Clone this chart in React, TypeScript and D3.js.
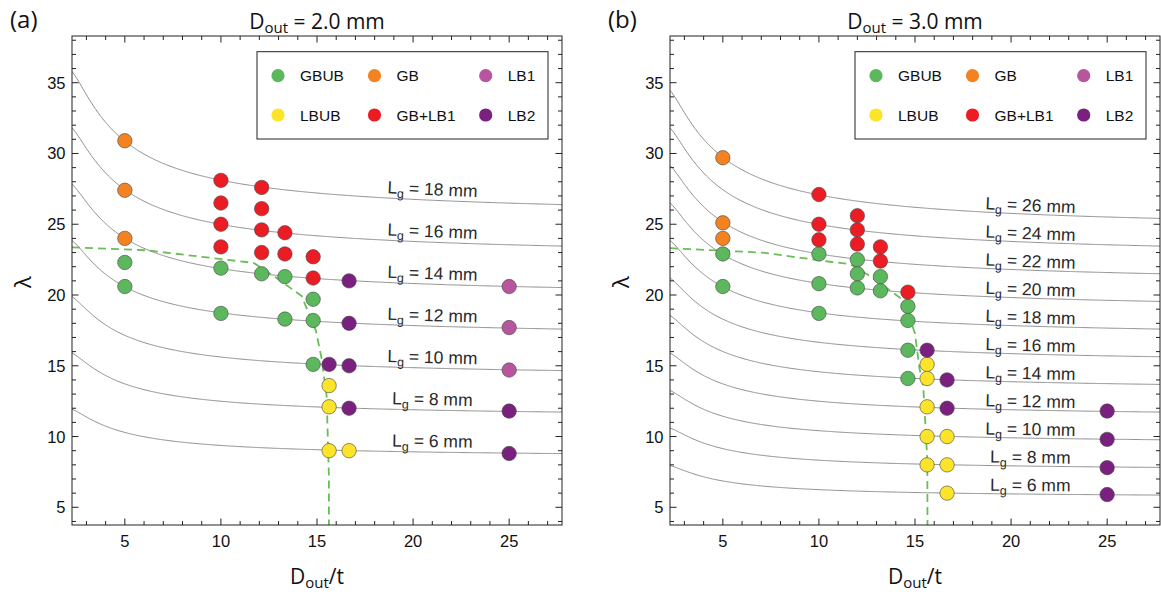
import React from "react";
import * as d3 from "d3";

const WIDTH = 1161;
const HEIGHT = 594;

type Pt = [number, number];

// Failure-mode categories in legend order (two rows of three)
const modeNames = ["GBUB", "GB", "LB1", "LBUB", "GB+LB1", "LB2"];
const modeColors = ["#5CB85C", "#F58220", "#B8559F", "#FBE42A", "#EC1C24", "#7A2180"];

// Axis ticks
const xMajorTicks = [5, 10, 15, 20, 25];
const yMajorTicks = [5, 10, 15, 20, 25, 30, 35];
const xDomain: Pt = [2.25, 27.75];
const yDomain: Pt = [3.75, 38.3];

// ---- Panel (a): D_out = 2.0 mm ----
const gaugeLengthsA = [6, 8, 10, 12, 14, 16, 18];
const gbubA: Pt[] = [
  [5, 22.3], [5, 20.6], [10, 21.9], [10, 18.7], [12.12, 21.5],
  [13.33, 21.3], [13.33, 18.3], [14.8, 19.7], [14.8, 18.2], [14.8, 15.1],
];
const gbA: Pt[] = [[5, 30.9], [5, 27.4], [5, 24.0]];
const lb1A: Pt[] = [[25, 20.6], [25, 17.7], [25, 14.7]];
const lbubA: Pt[] = [[15.63, 13.6], [15.63, 12.1], [15.63, 9.0], [16.67, 9.0]];
const gbLb1A: Pt[] = [
  [10, 28.1], [10, 26.5], [10, 25.0], [10, 23.4],
  [12.12, 27.6], [12.12, 26.1], [12.12, 24.6], [12.12, 23.0],
  [13.33, 24.4], [13.33, 22.9], [14.8, 22.7], [14.8, 21.2],
];
const lb2A: Pt[] = [
  [15.63, 15.1], [16.67, 21.0], [16.67, 18.0], [16.67, 15.0], [16.67, 12.0],
  [25, 11.8], [25, 8.8],
];
const boundaryA: Pt[] = [
  [2.25, 23.37], [6.1, 23.16], [11.7, 22.27], [12.9, 21.2], [14.2, 19.93],
  [14.95, 17.45], [15.25, 15.45], [15.5, 12.87], [15.62, 7.2], [15.62, 3.75],
];

// ---- Panel (b): D_out = 3.0 mm ----
const gaugeLengthsB = [6, 8, 10, 12, 14, 16, 18, 20, 22, 24, 26];
const gbubB: Pt[] = [
  [5, 22.9], [5, 20.6], [10, 22.9], [10, 20.8], [10, 18.7],
  [12, 22.5], [12, 21.5], [12, 20.5], [13.2, 21.3], [13.2, 20.3],
  [14.63, 19.2], [14.63, 18.2], [14.63, 16.1], [14.63, 14.1],
];
const gbB: Pt[] = [[5, 29.7], [5, 25.1], [5, 24.0]];
const lb1B: Pt[] = [];
const lbubB: Pt[] = [
  [15.63, 15.1], [15.63, 14.1], [15.63, 12.1], [15.63, 10.0], [15.63, 8.0],
  [16.67, 10.0], [16.67, 8.0], [16.67, 6.0],
];
const gbLb1B: Pt[] = [
  [10, 27.1], [10, 25.0], [10, 23.9], [12, 25.6], [12, 24.6], [12, 23.6],
  [13.2, 23.4], [13.2, 22.4], [14.63, 20.2],
];
const lb2B: Pt[] = [
  [15.63, 16.1], [16.67, 14.0], [16.67, 12.0],
  [25, 11.8], [25, 9.8], [25, 7.8], [25, 5.9],
];
const boundaryB: Pt[] = [
  [2.25, 23.31], [7.1, 22.99], [8.66, 22.7], [10.57, 22.35], [11.61, 22.19],
  [12.57, 21.41], [13.79, 20.23], [14.39, 19.64], [15.0, 17.29], [15.22, 14.93],
  [15.43, 13.52], [15.64, 8.34], [15.65, 3.75],
];

// Slenderness of a tube of gauge length lg: λ = 4·Lg / sqrt(D² + d²), d = D − 2t, t = D / ratio
function slenderness(lg: number, dOut: number, ratio: number) {
  const inner = 1 - 2 / ratio;
  return (4 * lg) / (dOut * Math.sqrt(1 + inner * inner));
}

const PLOT_TOP = 36;
const PLOT_BOTTOM = 525;
const PLOT_W = 490;
const LABEL_RATIO = 21;

const SANS = "'Liberation Sans', Arial, Helvetica, sans-serif";
const TITLE_FONT = "'Open Sans', 'Liberation Sans', sans-serif";

interface PanelSpec {
  id: string;
  tag: string;
  dOut: number;
  left: number;
  gaugeLengths: number[];
  series: Pt[][]; // in modeNames order
  boundary: Pt[];
  labelLift: number;
}

const panels: PanelSpec[] = [
  {
    id: "a", tag: "(a)", dOut: 2.0, left: 72, gaugeLengths: gaugeLengthsA,
    series: [gbubA, gbA, lb1A, lbubA, gbLb1A, lb2A], boundary: boundaryA, labelLift: 5,
  },
  {
    id: "b", tag: "(b)", dOut: 3.0, left: 670, gaugeLengths: gaugeLengthsB,
    series: [gbubB, gbB, lb1B, lbubB, gbLb1B, lb2B], boundary: boundaryB, labelLift: 3,
  },
];

function Panel({ spec }: { spec: PanelSpec }) {
  const left = spec.left;
  const right = left + PLOT_W;
  const x = d3.scaleLinear().domain(xDomain).range([left, right]);
  const y = d3.scaleLinear().domain(yDomain).range([PLOT_BOTTOM, PLOT_TOP]);
  const cx = (left + right) / 2;

  const ratios = d3.range(2.0, 27.8, 0.05);
  const line = d3.line<Pt>().x((d) => x(d[0])).y((d) => y(d[1]));

  const xMinor = d3.range(3, 28, 1);
  const yMinor = d3.range(4, 39, 1);
  const major = 6.5;
  const minor = 4;

  const clipId = `clip-${spec.id}`;

  // legend geometry
  const lgLeft = left + 185;
  const lgTop = 51.7;
  const colX = [21, 117.5, 228.7];
  const rowY = [24, 63.3];

  return (
    <g>
      <defs>
        <clipPath id={clipId}>
          <rect x={left} y={PLOT_TOP} width={PLOT_W} height={PLOT_BOTTOM - PLOT_TOP} />
        </clipPath>
      </defs>

      {/* slenderness curves for each gauge length */}
      <g clipPath={`url(#${clipId})`}>
        {spec.gaugeLengths.map((lg) => (
          <path
            key={lg}
            d={line(ratios.map((r) => [r, slenderness(lg, spec.dOut, r)] as Pt)) || ""}
            fill="none"
            stroke="#808080"
            strokeWidth={0.9}
          />
        ))}
        <path
          d={line(spec.boundary) || ""}
          fill="none"
          stroke="#68BE57"
          strokeWidth={1.8}
          strokeDasharray="8 5"
        />
      </g>

      {/* curve labels */}
      {spec.gaugeLengths.map((lg) => {
        const r0 = LABEL_RATIO - 0.4;
        const r1 = LABEL_RATIO + 0.4;
        const ang =
          (Math.atan2(
            y(slenderness(lg, spec.dOut, r1)) - y(slenderness(lg, spec.dOut, r0)),
            x(r1) - x(r0)
          ) * 180) / Math.PI;
        const px = x(LABEL_RATIO);
        const py = y(slenderness(lg, spec.dOut, LABEL_RATIO)) - spec.labelLift;
        return (
          <text
            key={`lab-${lg}`}
            transform={`translate(${px},${py}) rotate(${ang})`}
            textAnchor="middle"
            fontFamily={SANS}
            fontSize={17.5}
            fill="#2a2a2a"
          >
            L
            <tspan fontSize={12.5} dy={4}>g</tspan>
            <tspan dy={-4}>{` = ${lg} mm`}</tspan>
          </text>
        );
      })}

      {/* data points */}
      {spec.series.map((pts, i) =>
        pts.map((p, j) => (
          <circle
            key={`${i}-${j}`}
            cx={x(p[0])}
            cy={y(p[1])}
            r={7.2}
            fill={modeColors[i]}
            stroke="#4a4a4a"
            strokeOpacity={0.8}
            strokeWidth={0.8}
          />
        ))
      )}

      {/* frame */}
      <rect
        x={left}
        y={PLOT_TOP}
        width={PLOT_W}
        height={PLOT_BOTTOM - PLOT_TOP}
        fill="none"
        stroke="#222"
        strokeWidth={1}
      />

      {/* ticks */}
      <g stroke="#222" strokeWidth={1}>
        {xMinor.map((t) => {
          const len = t % 5 === 0 ? major : minor;
          const px = x(t);
          return (
            <g key={`xt-${t}`}>
              <line x1={px} x2={px} y1={PLOT_BOTTOM} y2={PLOT_BOTTOM - len} />
              <line x1={px} x2={px} y1={PLOT_TOP} y2={PLOT_TOP + len} />
            </g>
          );
        })}
        {yMinor.map((t) => {
          const len = t % 5 === 0 ? major : minor;
          const py = y(t);
          return (
            <g key={`yt-${t}`}>
              <line x1={left} x2={left + len} y1={py} y2={py} />
              <line x1={right} x2={right - len} y1={py} y2={py} />
            </g>
          );
        })}
      </g>

      {/* tick labels */}
      <g fontFamily={SANS} fontSize={16.5} fill="#111">
        {xMajorTicks.map((t) => (
          <text key={`xl-${t}`} x={x(t)} y={546.5} textAnchor="middle">
            {t}
          </text>
        ))}
        {yMajorTicks.map((t) => (
          <text key={`yl-${t}`} x={left - 6.5} y={y(t) + 6} textAnchor="end">
            {t}
          </text>
        ))}
      </g>

      {/* legend */}
      <rect
        x={lgLeft}
        y={lgTop}
        width={291}
        height={87.3}
        fill="#fff"
        stroke="#222"
        strokeWidth={1}
      />
      {modeNames.map((m, i) => {
        const c = i % 3;
        const r = Math.floor(i / 3);
        return (
          <g key={m}>
            <circle cx={lgLeft + colX[c]} cy={lgTop + rowY[r]} r={6.6} fill={modeColors[i]} />
            <text
              x={lgLeft + colX[c] + 22}
              y={lgTop + rowY[r] + 5.5}
              fontFamily={SANS}
              fontSize={15.5}
              fill="#111"
            >
              {m}
            </text>
          </g>
        );
      })}

      {/* titles and axis labels */}
      <text x={cx} y={29} textAnchor="middle" fontFamily={TITLE_FONT} fontSize={21} fill="#111">
        D<tspan fontSize={15} dy={4}>out</tspan>
        <tspan dy={-4}>{` = ${spec.dOut.toFixed(1)} mm`}</tspan>
      </text>
      <text x={left - 62} y={28} fontFamily={TITLE_FONT} fontSize={24} fill="#111">
        {spec.tag}
      </text>
      <text
        transform={`translate(${left - 50},282) rotate(-90)`}
        textAnchor="middle"
        dominantBaseline="central"
        fontFamily={TITLE_FONT}
        fontSize={22}
        fill="#111"
      >
        λ
      </text>
      <text x={cx} y={584} textAnchor="middle" fontFamily={TITLE_FONT} fontSize={21} fill="#111">
        D<tspan fontSize={15} dy={4}>out</tspan>
        <tspan dy={-4}>/t</tspan>
      </text>
    </g>
  );
}

export default function App() {
  return (
    <svg
      width={WIDTH}
      height={HEIGHT}
      viewBox={`0 0 ${WIDTH} ${HEIGHT}`}
      style={{ position: "absolute", left: 0, top: 0, display: "block", background: "#fff" }}
    >
      <rect width={WIDTH} height={HEIGHT} fill="#fff" />
      {panels.map((p) => (
        <Panel key={p.id} spec={p} />
      ))}
    </svg>
  );
}
